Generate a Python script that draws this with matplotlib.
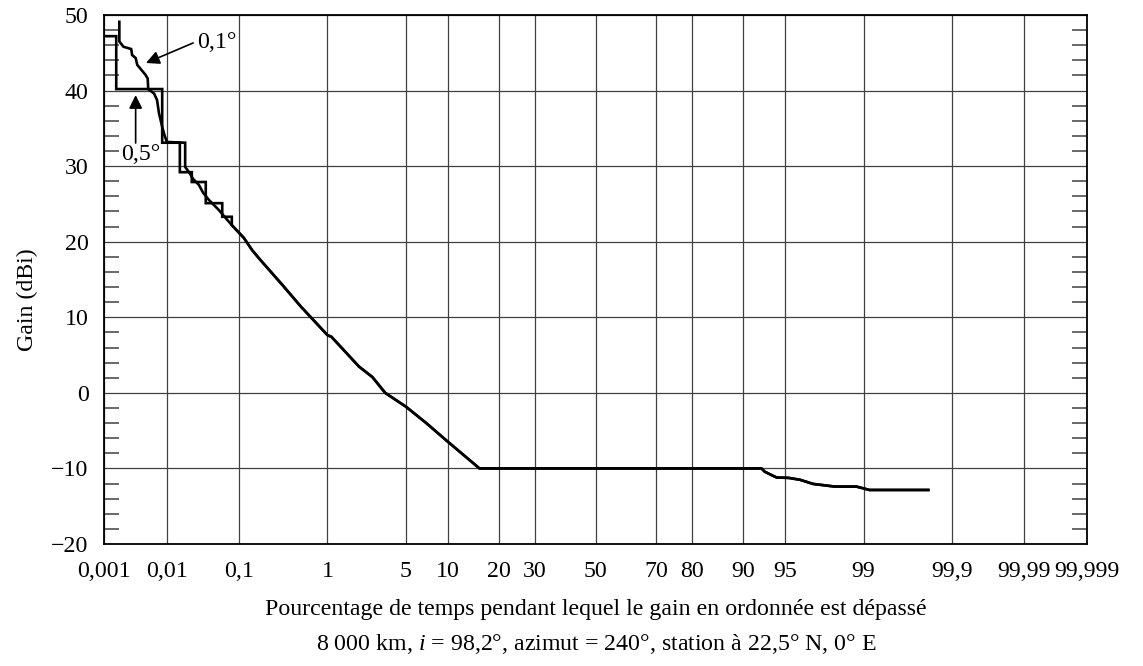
import math
import numpy as np
import matplotlib
matplotlib.use("Agg")
import matplotlib.pyplot as plt
from matplotlib.ticker import FixedLocator, MultipleLocator, NullLocator, FuncFormatter

# x ticks (percentage of time, normal probability scale)
x_ticks = [0.001, 0.01, 0.1, 1, 5, 10, 20, 30, 50, 70, 80, 90, 95, 99, 99.9, 99.99, 99.999]
x_labels = ["0,001", "0,01", "0,1", "1", "5", "10", "20", "30", "50", "70", "80",
            "90", "95", "99", "99,9", "99,99", "99,999"]

# 0.5 deg curve, staircase part
pct_05 = [0.001, 0.0016, 0.0016, 0.0085, 0.0085, 0.0155, 0.0155, 0.023, 0.023,
          0.036, 0.036, 0.060, 0.060, 0.080]
gain_05 = [47.2, 47.2, 40.2, 40.2, 33.1, 33.1, 29.2, 29.2, 27.9,
           27.9, 25.1, 25.1, 23.3, 23.3]

# 0.1 deg curve, top part
pct_01 = [0.0018, 0.0018, 0.0021, 0.0028, 0.0029, 0.0033, 0.0035, 0.0041, 0.0047,
          0.0051, 0.0052, 0.0064, 0.0071, 0.0076, 0.0085, 0.0092, 0.0100, 0.0185,
          0.0185, 0.021, 0.024, 0.029, 0.033, 0.040, 0.054, 0.067, 0.080]
gain_01 = [49.1, 46.5, 45.8, 45.5, 44.7, 44.3, 43.4, 42.7, 42.1,
           41.6, 40.2, 39.6, 38.75, 37.0, 35.2, 34.1, 33.2, 33.1,
           29.9, 29.2, 28.3, 27.5, 26.5, 25.5, 24.2, 23.1, 22.2]

# common part of both curves
pct_tail = [0.080, 0.114, 0.144, 0.175, 0.33, 0.53, 1.0, 1.1, 2.0, 2.64, 3.4, 5.0,
            7.1, 10.0, 15.7, 92.5, 92.9, 93.65, 94.2, 95.3, 96.2, 97.05, 98.1,
            98.82, 99.13, 99.806]
gain_tail = [22.2, 20.5, 18.9, 17.8, 14.27, 11.4, 7.65, 7.4, 3.5, 2.1, 0.0, -1.83,
             -4.0, -6.46, -10.0, -10.0, -10.43, -10.87, -11.2, -11.25, -11.5, -12.05,
             -12.4, -12.4, -12.85, -12.85]

plt.rcParams["font.family"] = ["Liberation Serif", "DejaVu Serif"]
plt.rcParams["font.size"] = 17.2
plt.rcParams["mathtext.fontset"] = "custom"
plt.rcParams["mathtext.rm"] = "Liberation Serif"
plt.rcParams["mathtext.it"] = "Liberation Serif:italic"

_erf = np.vectorize(math.erf, otypes=[float])


def prob_fwd(x):
    # percent -> standard normal quantile (bisection)
    p = np.clip(np.asarray(x, dtype=float) / 100.0, 1e-12, 1 - 1e-12)
    if p.size == 0:
        return p
    lo = np.full_like(p, -8.0)
    hi = np.full_like(p, 8.0)
    for _ in range(55):
        mid = (lo + hi) / 2
        below = 0.5 * (1 + _erf(mid / math.sqrt(2))) < p
        lo = np.where(below, mid, lo)
        hi = np.where(below, hi, mid)
    return (lo + hi) / 2


def prob_inv(z):
    z = np.asarray(z, dtype=float)
    if z.size == 0:
        return z
    return 50.0 * (1 + _erf(z / math.sqrt(2)))


fig = plt.figure(figsize=(11.43, 6.66), dpi=100)
ax = fig.add_axes([104 / 1143, 1 - 544 / 666, 983 / 1143, 529 / 666])
ax.set_xscale("function", functions=(prob_fwd, prob_inv))

ax.plot(pct_05 + pct_tail, gain_05 + gain_tail, color="k", lw=1.9, solid_joinstyle="miter")
ax.plot(pct_01 + pct_tail, gain_01 + gain_tail, color="k", lw=1.9, solid_joinstyle="miter")

ax.set_xlim(0.001, 99.999)
ax.set_ylim(-20, 50)

ax.xaxis.set_major_locator(FixedLocator(x_ticks))
ax.xaxis.set_major_formatter(FuncFormatter(lambda v, i: x_labels[i] if i is not None and i < len(x_labels) else ""))
ax.xaxis.set_minor_locator(NullLocator())
ax.yaxis.set_major_locator(MultipleLocator(10))
ax.yaxis.set_minor_locator(MultipleLocator(2))
ax.yaxis.set_major_formatter(FuncFormatter(lambda v, i: f"{v:.0f}".replace("-", "\u2212")))

ax.tick_params(axis="x", which="major", length=0, pad=12)
ax.tick_params(axis="y", which="major", length=0, pad=11)
ax.tick_params(axis="y", which="minor", direction="in", length=11, width=1.1,
               left=True, right=True, color="0.25")

ax.grid(True, which="major", color="0.25", lw=0.9)
for s in ax.spines.values():
    s.set_linewidth(1.3)

arrow = dict(arrowstyle="-|>", color="k", lw=1.2, mutation_scale=20, shrinkA=0, shrinkB=0)
ax.annotate("", xy=(0.0048, 43.65), xytext=(0.024, 46.3), arrowprops=arrow)
ax.text(0.027, 46.4, "0,1°", ha="left", va="center")
ax.annotate("", xy=(0.0033, 39.4), xytext=(0.0033, 33.06), arrowprops=arrow)
ax.text(0.0019, 31.5, "0,5°", ha="left", va="center")

fig.text(27 / 1143, 1 - 300 / 666, "Gain (dBi)", rotation=90, ha="center", va="center")
fig.text(596 / 1143, 1 - 609 / 666, "Pourcentage de temps pendant lequel le gain en ordonnée est dépassé",
         ha="center", va="center")
fig.text(596 / 1143, 1 - 644 / 666, "8 000 km, $i$ = 98,2°, azimut = 240°, station à 22,5° N, 0° E",
         ha="center", va="center")

fig.savefig("out.png", dpi=100)
